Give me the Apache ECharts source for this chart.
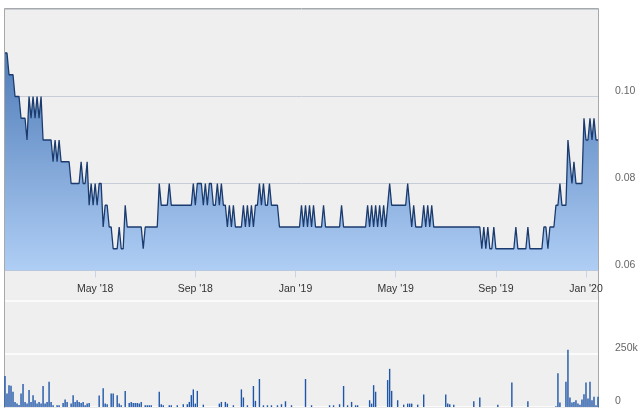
<!DOCTYPE html>
<html>
<head>
<meta charset="utf-8">
<script src="https://cdn.jsdelivr.net/npm/echarts@6/dist/echarts.min.js"></script>
<style>
html,body{margin:0;padding:0;background:#fff;}
#chart{width:640px;height:415px;}
</style>
</head>
<body>
<div id="chart"></div>
<script>
// Daily-ish price samples (evenly spaced trading slots), Jan 2018 - Jan 2020
var price = [
  0.11,0.11,0.105,0.105,0.105,0.10,0.10,0.10,0.095,0.095,
  0.095,0.09,0.10,0.095,0.10,0.095,0.10,0.095,0.10,0.09,
  0.09,0.09,0.09,0.09,0.085,0.09,0.085,0.09,0.085,0.085,
  0.085,0.085,0.085,0.08,0.08,0.08,0.08,0.08,0.085,0.08,
  0.08,0.085,0.075,0.08,0.075,0.08,0.075,0.08,0.08,0.07,
  0.075,0.075,0.07,0.07,0.065,0.065,0.065,0.07,0.065,0.065,
  0.075,0.07,0.07,0.07,0.07,0.07,0.07,0.07,0.07,0.065,
  0.07,0.07,0.07,0.07,0.07,0.07,0.07,0.08,0.075,0.075,
  0.075,0.075,0.08,0.075,0.075,0.075,0.075,0.075,0.075,0.075,
  0.075,0.075,0.075,0.075,0.08,0.075,0.08,0.08,0.08,0.075,
  0.08,0.075,0.08,0.08,0.075,0.075,0.08,0.075,0.08,0.075,
  0.075,0.07,0.075,0.07,0.075,0.07,0.07,0.07,0.07,0.075,
  0.07,0.075,0.07,0.075,0.07,0.075,0.075,0.08,0.075,0.08,
  0.075,0.075,0.08,0.075,0.075,0.075,0.075,0.07,0.07,0.07,
  0.07,0.07,0.07,0.07,0.07,0.07,0.07,0.07,0.075,0.07,
  0.075,0.07,0.075,0.07,0.075,0.07,0.07,0.07,0.07,0.075,
  0.07,0.07,0.07,0.07,0.07,0.07,0.07,0.07,0.075,0.07,
  0.07,0.07,0.07,0.07,0.07,0.07,0.07,0.07,0.07,0.07,
  0.07,0.075,0.07,0.075,0.07,0.075,0.07,0.075,0.07,0.075,
  0.07,0.075,0.08,0.075,0.075,0.075,0.075,0.075,0.075,0.075,
  0.075,0.08,0.075,0.07,0.075,0.07,0.07,0.07,0.07,0.075,
  0.07,0.075,0.07,0.075,0.07,0.07,0.07,0.07,0.07,0.07,
  0.07,0.07,0.07,0.07,0.07,0.07,0.07,0.07,0.07,0.07,
  0.07,0.07,0.07,0.07,0.07,0.07,0.07,0.07,0.065,0.07,
  0.065,0.07,0.065,0.065,0.07,0.065,0.065,0.065,0.065,0.065,
  0.065,0.065,0.065,0.065,0.065,0.07,0.065,0.065,0.065,0.065,
  0.065,0.07,0.065,0.065,0.065,0.065,0.065,0.065,0.065,0.07,
  0.07,0.065,0.07,0.07,0.07,0.075,0.075,0.08,0.075,0.075,
  0.075,0.09,0.085,0.08,0.085,0.08,0.08,0.08,0.08,0.095,
  0.09,0.09,0.095,0.09,0.095,0.09,0.09
];

// Volume per slot, in thousands of shares
var volume = [
  146,64,103,100,72,24,16,10,64,108,
  24,16,80,24,56,32,16,24,16,99,
  16,24,119,24,8,0,8,8,0,19,
  35,24,0,16,56,24,32,24,19,24,
  8,16,19,0,0,0,0,54,0,88,
  16,13,0,64,64,0,56,16,8,0,
  76,0,19,24,19,19,19,16,24,0,
  8,8,8,8,0,0,0,72,13,8,
  0,0,8,8,0,0,8,0,0,13,
  0,13,24,56,83,16,76,0,0,11,
  0,0,0,0,0,0,0,16,24,0,
  24,16,0,0,8,0,0,0,83,45,
  0,8,0,0,99,29,0,132,0,8,
  0,8,0,8,0,0,8,0,13,0,
  27,0,0,8,0,0,0,0,0,0,
  132,0,0,8,0,0,0,0,0,0,
  0,0,8,0,8,0,0,13,0,99,
  0,8,0,24,0,8,8,0,0,0,
  0,0,32,16,103,72,0,0,0,0,
  0,127,180,76,0,0,32,0,0,11,
  0,16,16,16,0,0,11,0,0,59,
  0,0,0,0,0,0,0,0,0,0,
  59,16,13,0,11,0,0,0,0,0,
  0,0,0,0,27,0,0,45,0,0,
  0,0,0,0,0,0,11,0,0,0,
  0,0,0,115,0,0,0,0,0,0,
  0,27,0,0,0,0,0,0,0,0,
  0,0,0,0,0,3,159,21,0,0,
  119,270,45,21,24,32,16,11,35,60,
  115,40,119,32,48,8,48
];

// Month tick labels and the slot each one falls on
var tickLabels = ["May '18", "Sep '18", "Jan '19", "May '19", "Sep '19", "Jan '20"];
var tickSlots = [45, 95, 145, 195, 245, 290];

var categories = price.map(function (_, i) {
  var k = tickSlots.indexOf(i);
  return k >= 0 ? tickLabels[k] : '';
});

var FONT = "'Liberation Sans Narrow', 'Liberation Sans', Arial, sans-serif";
var showTick = function (index, value) { return value !== ''; };

var chart = echarts.init(document.getElementById('chart'));
chart.setOption({
  animation: false,
  backgroundColor: '#ffffff',
  graphic: [{
    type: 'rect',
    z: -10,
    silent: true,
    shape: { x: 4.5, y: 8.5, width: 594, height: 399 },
    style: { fill: '#efefef', stroke: '#a8a8a8', lineWidth: 1 }
  }],
  grid: [
    { left: 5, right: 42, top: 9.5, height: 261, outerBoundsMode: 'none' },
    { left: 5, right: 42, top: 301, height: 106, outerBoundsMode: 'none' }
  ],
  xAxis: [
    {
      type: 'category', gridIndex: 0, data: categories, boundaryGap: false,
      axisLine: { show: true, lineStyle: { color: '#c2c2c2', width: 1 } },
      axisTick: { show: true, interval: showTick, length: 7, lineStyle: { color: '#c7d5e6' } },
      axisLabel: { show: true, interval: showTick, margin: 13, color: '#333333',
                   fontSize: 10.5, fontFamily: FONT },
      splitLine: { show: false }
    },
    {
      type: 'category', gridIndex: 1, data: categories, boundaryGap: false,
      axisLine: { show: false }, axisTick: { show: false }, axisLabel: { show: false },
      splitLine: { show: false }
    }
  ],
  yAxis: [
    {
      type: 'value', gridIndex: 0, position: 'right', min: 0.06, max: 0.12, interval: 0.02,
      axisLine: { show: false }, axisTick: { show: false },
      axisLabel: { margin: 17, color: '#666666', fontSize: 10.5, fontFamily: FONT,
                   align: 'left', verticalAlign: 'bottom', showMaxLabel: false,
                   formatter: function (v) { return v.toFixed(2); } },
      splitLine: { show: true, lineStyle: { color: '#c6cdd7', width: 1 } }
    },
    {
      type: 'value', gridIndex: 1, position: 'right', min: 0, max: 500, interval: 250,
      axisLine: { show: false }, axisTick: { show: false },
      axisLabel: { margin: 17, color: '#666666', fontSize: 10.5, fontFamily: FONT,
                   align: 'left', verticalAlign: 'bottom', showMaxLabel: false,
                   formatter: function (v) { return v === 0 ? '0' : v + 'k'; } },
      splitLine: { show: true, lineStyle: { color: '#ffffff', width: 1.5 } }
    }
  ],
  series: [
    {
      type: 'line', xAxisIndex: 0, yAxisIndex: 0, data: price,
      showSymbol: false, symbol: 'none', smooth: false,
      lineStyle: { color: '#1b3b6e', width: 1.3 },
      areaStyle: {
        origin: 'start',
        opacity: 1,
        color: new echarts.graphic.LinearGradient(0, 0, 0, 1, [
          { offset: 0, color: '#4f7cb8' },
          { offset: 1, color: '#afcef5' }
        ])
      }
    },
    {
      type: 'bar', xAxisIndex: 1, yAxisIndex: 1, data: volume,
      barWidth: 1.4, itemStyle: { color: '#1f56a8' }
    }
  ]
});
</script>
</body>
</html>
